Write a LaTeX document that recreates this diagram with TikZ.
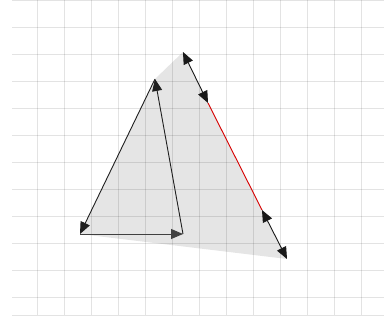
\documentclass[tikz,border=0pt]{standalone}
\usetikzlibrary{arrows.meta}
\tikzset{
  gridline/.style={draw=black, draw opacity=0.11, line width=0.8pt},
  tip/.tip={Triangle[length=12pt,width=10pt]},
  arr/.style={draw=black!88, line width=0.9pt, -tip},
  dbl/.style={draw=black!90, line width=0.9pt, tip-tip},
  redseg/.style={draw=red!85!black, line width=0.9pt},
}
\begin{document}
\begin{tikzpicture}[x=1pt,y=-1pt]
\useasboundingbox (0,0) rectangle (384,322);
% points
\coordinate (A) at (183,52);
\coordinate (B) at (287,259);
\coordinate (C) at (80,234);
\coordinate (D) at (155,79);
\coordinate (E) at (183,234);
\coordinate (F) at (208,103);
\coordinate (G) at (262,210);
% fill
\fill[black!10] (C) -- (D) -- (A) -- (B) -- cycle;
% grid
\foreach \y in {0,27,...,297} { \draw[gridline] (12,\y) -- (384,\y); }
\draw[draw=black, draw opacity=0.11, line width=1.6pt] (12,315.5) -- (384,315.5);
\foreach \x in {37.7,64.7,...,362} { \draw[gridline] (\x,0) -- (\x,315); }
% inner triangle
\draw[arr] (D) -- (C);
\draw[arr, draw=black!75] (C) -- (E);
\draw[arr] (E) -- (D);
% outer edge
\draw[redseg] (F) -- (G);
\draw[dbl] (A) -- (F);
\draw[dbl] (G) -- (B);
\end{tikzpicture}
\end{document}
